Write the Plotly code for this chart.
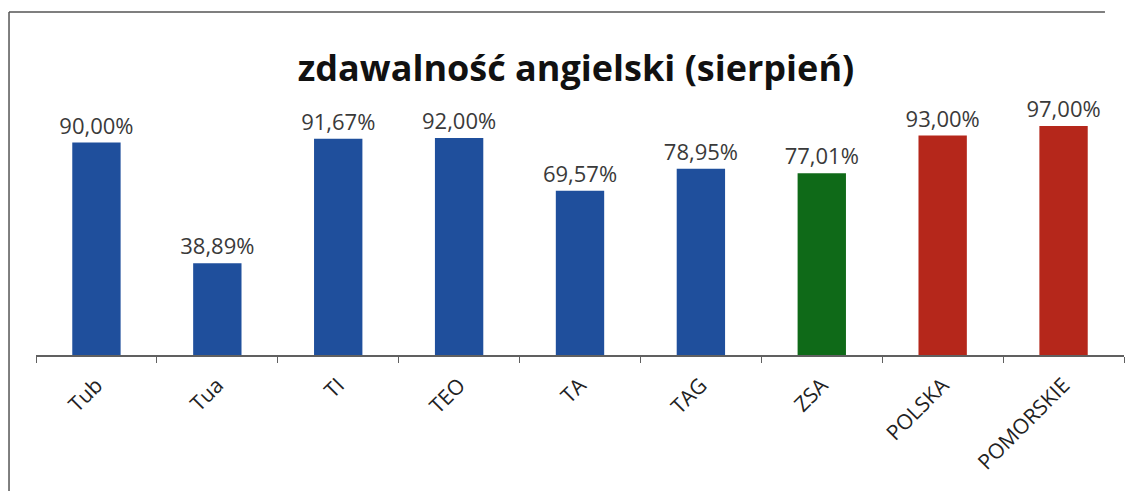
import plotly.graph_objects as go

categories = ["Tub", "Tua", "TI", "TEO", "TA", "TAG", "ZSA", "POLSKA", "POMORSKIE"]
pass_rates = [90.00, 38.89, 91.67, 92.00, 69.57, 78.95, 77.01, 93.00, 97.00]
bar_colors = ["#1f4f9c"] * 6 + ["#0f6a18"] + ["#b5271b"] * 2

fig = go.Figure(go.Bar(
    x=categories, y=pass_rates,
    marker=dict(color=bar_colors, line=dict(width=0)),
    width=0.4,
    texttemplate="%{y:.2f}%", textposition="outside", constraintext="none",
    textfont=dict(family="Open Sans", size=22, color="#3a3a3a"),
    cliponaxis=False,
))

# page body adds 8px margin, so margins are offset to compensate
fig.update_layout(
    width=1139, height=491,
    margin=dict(l=28, r=23, t=111, b=144),
    paper_bgcolor="white", plot_bgcolor="white",
    separators=", ",
    showlegend=False,
    title=dict(text="<b>zdawalność angielski (sierpień)</b>", x=0.4987, xanchor="center",
               y=0.878, yanchor="middle",
               font=dict(family="Open Sans", size=36, color="#111111")),
    xaxis=dict(showline=True, linecolor="#606060", linewidth=1.5, ticks="outside",
               ticklen=6, tickcolor="#606060", tickson="boundaries", tickangle=-45,
               ticklabelstandoff=8, automargin=False,
               tickfont=dict(family="Open Sans", size=21, color="#222222")),
    yaxis=dict(range=[0, 100], visible=False, automargin=False),
    shapes=[
        dict(type="line", xref="paper", yref="paper", x0=-0.0248, x1=0.9825, y0=1.453, y1=1.453,
             line=dict(color="#555555", width=1.5)),
        dict(type="line", xref="paper", yref="paper", x0=-0.0248, x1=-0.0248, y0=1.453, y1=-0.58,
             line=dict(color="#555555", width=1.5)),
    ],
)

fig.write_html("out.html")
